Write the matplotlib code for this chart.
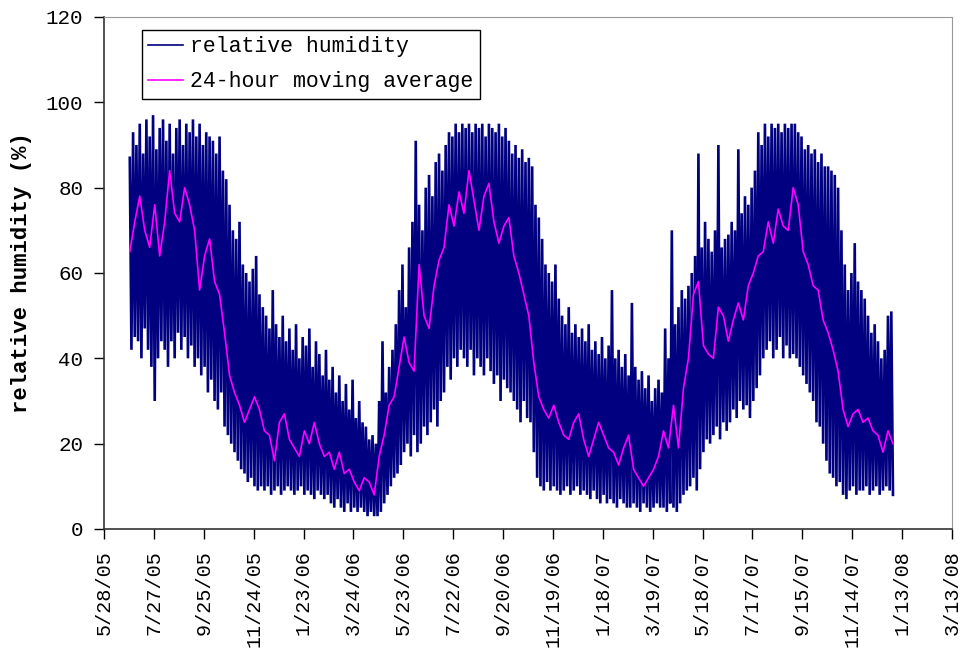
import numpy as np
import matplotlib
matplotlib.use("Agg")
import matplotlib.pyplot as plt
import matplotlib.dates as mdates
import datetime as dt

# ---- data ----
# daily-ish maxima / minima of relative humidity, one pair every 4 days from 2005-06-28
rh_high = [87, 93, 90, 95, 88, 96, 92, 97, 89, 94,
           96, 91, 95, 88, 94, 96, 90, 95, 93, 96,
           92, 95, 90, 93, 92, 91, 88, 92, 84, 82,
           76, 70, 68, 72, 62, 60, 58, 61, 64, 55,
           52, 50, 47, 56, 48, 45, 50, 44, 47, 42,
           48, 40, 45, 43, 47, 38, 44, 41, 36, 42,
           35, 38, 32, 36, 30, 34, 28, 35, 26, 30,
           25, 24, 21, 22, 20, 30, 44, 32, 38, 42,
           48, 56, 62, 52, 66, 72, 91, 76, 70, 80,
           83, 78, 86, 88, 84, 90, 93, 92, 95, 93,
           95, 94, 95, 93, 95, 94, 95, 92, 95, 94,
           93, 95, 92, 94, 91, 88, 90, 87, 89, 86,
           87, 85, 76, 73, 68, 62, 60, 58, 62, 54,
           50, 48, 52, 46, 48, 45, 47, 44, 48, 42,
           44, 41, 45, 40, 43, 56, 40, 42, 38, 41,
           36, 53, 38, 35, 37, 33, 36, 30, 33, 35,
           32, 47, 40, 70, 48, 52, 56, 54, 57, 60,
           64, 88, 66, 72, 68, 65, 70, 90, 66, 68,
           69, 72, 70, 89, 74, 78, 76, 80, 84, 93,
           90, 95, 92, 95, 94, 95, 93, 95, 94, 95,
           95, 93, 92, 89, 90, 88, 89, 86, 88, 85,
           85, 84, 83, 80, 70, 62, 56, 60, 67, 58,
           56, 54, 50, 46, 48, 44, 40, 42, 50, 51]
rh_low = [42, 45, 44, 40, 47, 42, 38, 30, 40, 44,
          42, 38, 44, 40, 46, 42, 45, 40, 43, 38,
          40, 36, 38, 32, 35, 30, 28, 32, 24, 22,
          20, 18, 16, 14, 13, 11, 12, 10, 9, 10,
          9, 10, 8, 9, 10, 8, 9, 10, 9, 8,
          9, 10, 8, 9, 8, 7, 9, 8, 7, 8,
          6, 5, 7, 5, 4, 6, 4, 5, 4, 5,
          4, 3, 4, 3, 3, 4, 6, 8, 10, 12,
          13, 15, 18, 20, 17, 22, 18, 20, 24, 22,
          25, 28, 24, 30, 32, 38, 35, 40, 38, 42,
          40, 38, 42, 36, 40, 38, 36, 40, 37, 34,
          36, 30, 35, 33, 32, 30, 28, 25, 30, 26,
          25, 18, 12, 10, 9, 11, 9, 10, 9, 8,
          9, 10, 8, 9, 10, 8, 9, 8, 7, 9,
          7, 6, 8, 6, 7, 6, 5, 7, 6, 5,
          5, 6, 5, 4, 6, 5, 4, 5, 6, 5,
          5, 4, 6, 5, 4, 6, 8, 9, 10, 12,
          9, 14, 18, 21, 20, 22, 24, 21, 25, 23,
          25, 28, 26, 30, 28, 29, 26, 30, 33, 36,
          40, 42, 44, 40, 42, 45, 40, 43, 40, 41,
          40, 38, 36, 34, 32, 30, 25, 24, 20, 16,
          13, 12, 10, 11, 8, 7, 9, 10, 8, 9,
          9, 10, 8, 9, 10, 8, 9, 10, 9, 8]
# 24-hour moving average, one value every 6 days from 2005-06-28
rh_avg = [65, 72, 78, 70, 66, 76, 64, 72, 84, 74,
          72, 80, 76, 70, 56, 64, 68, 58, 55, 46,
          36, 32, 29, 25, 28, 31, 28, 23, 22, 16,
          25, 27, 21, 19, 17, 23, 20, 25, 20, 17,
          18, 14, 18, 13, 14, 11, 9, 12, 11, 8,
          17, 22, 29, 31, 38, 45, 39, 37, 62, 50,
          47, 57, 63, 66, 76, 71, 79, 74, 84, 77,
          70, 78, 81, 72, 67, 71, 73, 64, 60, 55,
          50, 39, 31, 28, 26, 29, 25, 22, 21, 25,
          27, 21, 17, 21, 25, 22, 19, 18, 15, 19,
          22, 14, 12, 10, 12, 14, 17, 23, 19, 29,
          19, 33, 40, 55, 58, 43, 41, 40, 52, 50,
          44, 49, 53, 49, 57, 60, 64, 65, 72, 67,
          75, 71, 70, 80, 76, 65, 62, 57, 56, 49,
          46, 42, 37, 28, 24, 27, 28, 25, 26, 23,
          22, 18, 23, 20]

start = dt.date(2005, 6, 28)
tick_start = dt.date(2005, 5, 28)
tick_step_days = 60
n_ticks = 18

# ---- build series ----
rh_vals = []
rh_dates = []
for i, (h, l) in enumerate(zip(rh_high, rh_low)):
    rh_dates.append(start + dt.timedelta(days=4 * i))
    rh_vals.append(h)
    rh_dates.append(start + dt.timedelta(days=4 * i + 2))
    rh_vals.append(l)
avg_dates = [start + dt.timedelta(days=6 * i) for i in range(len(rh_avg))]

mono = ['Liberation Mono', 'DejaVu Sans Mono']
plt.rcParams['font.family'] = mono

fig = plt.figure(figsize=(9.6, 6.54), dpi=100)
ax = fig.add_axes([104 / 960, 1 - 529 / 654, 848 / 960, 512 / 654])

ax.plot(rh_dates, rh_vals, color='#000080', lw=1.9, solid_joinstyle='miter',
        label='relative humidity')
ax.plot(avg_dates, rh_avg, color='#FF00FF', lw=1.2, label='24-hour moving average')

ticks = [tick_start + dt.timedelta(days=tick_step_days * i) for i in range(n_ticks)]
ax.set_xlim(mdates.date2num(ticks[0]), mdates.date2num(ticks[-1]))
ax.set_xticks(mdates.date2num(ticks))
ax.set_xticklabels([f"{d.month}/{d.day}/{d.year % 100:02d}" for d in ticks],
                   rotation=90, fontsize=14.5)
ax.set_ylim(0, 120)
ax.set_yticks(range(0, 121, 20))
ax.tick_params(axis='y', labelsize=15, length=7, width=1, direction='out', pad=8)
ax.tick_params(axis='x', length=7, width=1, direction='out', pad=8)
ax.set_ylabel('relative humidity (%)', fontsize=16, fontweight='bold', labelpad=10)

for s in ['top', 'right']:
    ax.spines[s].set_color('#999999')
    ax.spines[s].set_linewidth(0.8)
for s in ['left', 'bottom']:
    ax.spines[s].set_color('#333333')
    ax.spines[s].set_linewidth(1.2)

leg = ax.legend(loc='upper left', bbox_to_anchor=(38 / 848, 1 - 13 / 512),
                fontsize=15.5, frameon=True, fancybox=False, handlelength=1.6,
                handletextpad=0.35, borderpad=0.3, labelspacing=0.65,
                borderaxespad=0, edgecolor='black', framealpha=1)
leg.get_frame().set_linewidth(1.0)
for h in leg.get_lines():
    h.set_linewidth(1.2)

fig.savefig('out.png', dpi=100, facecolor='white')
